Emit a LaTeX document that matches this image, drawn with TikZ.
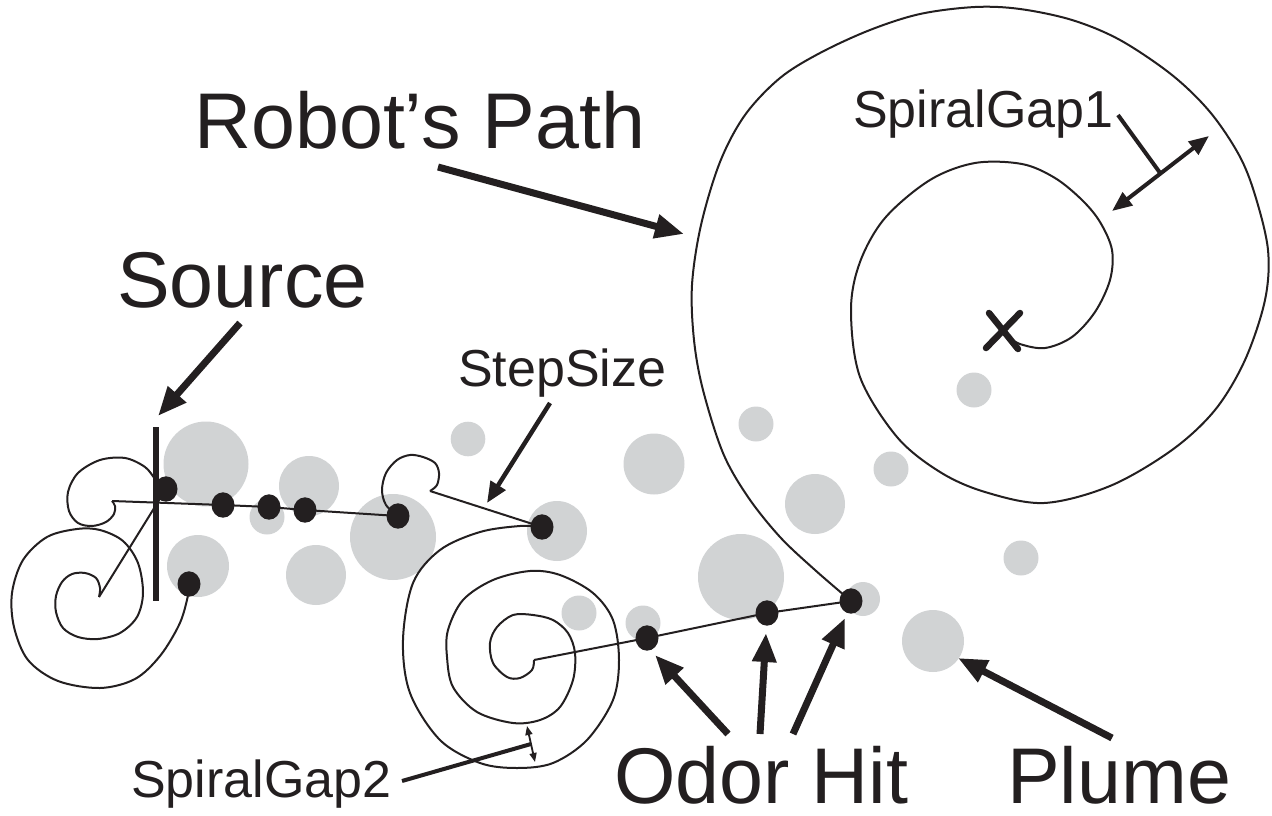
\documentclass[tikz,border=0pt]{standalone}
\usepackage{fontspec}
\setmainfont{Liberation Sans}
\usetikzlibrary{arrows.meta}
\definecolor{ink}{HTML}{231F20}
\definecolor{plumegray}{HTML}{D1D3D4}
\tikzset{
  puff/.style={fill=plumegray},
  trail/.style={draw=ink, line width=2pt, line join=round},
  hitdot/.style={fill=ink},
  bigarrow/.style={draw=ink, line width=7pt, -{Triangle[length=29pt,width=23pt]}},
  midarrow/.style={draw=ink, line width=4.5pt, -{Triangle[length=21pt,width=17pt]}},
  gaparrow/.style={draw=ink, line width=4pt, {Triangle[length=20pt,width=16pt]}-{Triangle[length=20pt,width=16pt]}},
  tinyarrow/.style={draw=ink, line width=1.8pt, {Triangle[length=9pt,width=7pt]}-{Triangle[length=9pt,width=7pt]}},
  leader/.style={draw=ink, line width=4pt},
  biglbl/.style={inner sep=0pt, anchor=base west, text=ink, font=\fontsize{79}{90}\selectfont},
  smalllbl/.style={inner sep=0pt, anchor=base west, text=ink, font=\fontsize{52}{60}\selectfont},
}
\begin{document}
\begin{tikzpicture}[x=1pt,y=-1pt]
\useasboundingbox (0,0) rectangle (1272,816);

% odour plume puffs
\foreach \cx/\cy/\r in {206/464/42.5, 309/486/30, 267/517/17.5, 198/566/31, 316/575/30,
  393/537/43, 468/439/17.3, 654/464/30.5, 557/531/30, 579/613/17.5, 643/623/17.5,
  741/577/43, 815/504/30, 891/469/17.5, 756/424/17.5, 974/390/17.5, 863/599/17,
  933/641/31, 1021/558/17.5}
  \fill[puff] (\cx,\cy) circle (\r);

% odour hit positions
\coordinate (s1) at (166,489);
\coordinate (s2) at (223,505);
\coordinate (s3) at (269,507);
\coordinate (s4) at (305,510);
\coordinate (s5) at (398,516);
\coordinate (s6) at (189,584);
\coordinate (m1) at (542,527);
\coordinate (h1) at (647,638);
\coordinate (h2) at (767,613);
\coordinate (h3) at (851,601);
\coordinate (c2) at (534,660);
\coordinate (c1) at (99,597);
\coordinate (hookA) at (112,501);
\coordinate (hookB) at (430,491);

% source bar
\draw[ink, line width=6pt] (156,427) -- (156,601);

% outward spiral from the start cross to the first hit
\draw[trail] plot[smooth, tension=0.55] coordinates {
  (1005,335) (1020,344) (1045,348) (1072,337) (1095,312) (1110,280) (1112,250)
  (1100,222) (1082,200) (1055,178) (1022,164) (975,163) (930,180) (885,218)
  (860,262) (851,310) (860,377) (897,437) (940,472) (985,492) (1044,503)
  (1110,486) (1172,450) (1215,410) (1245,360) (1265,300) (1268,250) (1255,195)
  (1239,155) (1210,112) (1172,75) (1120,40) (1072,20) (1020,9) (975,7) (920,14)
  (870,30) (820,53) (780,78) (745,115) (720,162) (701,225) (692,285) (694,340)
  (703,390) (723,453) (748,497) (780,537) (815,570) (851,601)};

% upwind surge through the hits
\draw[trail] (h3) -- (h2) -- (h1) -- (c2);

% middle casting spiral
\draw[trail] plot[smooth, tension=0.55] coordinates {
  (534,660) (532,670) (520,678) (507,677) (493,663) (490,643) (497,627) (513,615)
  (533,615) (553,620) (568,633) (575,653) (573,680) (560,707) (540,720) (513,723)
  (477,712) (453,687) (447,657) (448,630) (463,600) (493,580) (530,571) (560,575)
  (593,593) (613,620) (619,660) (613,700) (587,740) (553,763) (517,768) (480,763)
  (440,740) (410,693) (403,640) (413,583) (440,550) (480,532) (520,526) (542,527)};

% step to the next hit and small loop
\draw[trail] (m1) -- (hookB);
\draw[trail] plot[smooth, tension=0.55] coordinates {
  (430,491) (437,485) (439,473) (435,463) (423,457) (410,455) (397,460) (386,473)
  (382,490) (386,505) (398,516)};

% surge past the source
\draw[trail] (s5) -- (s4) -- (s3) -- (s2) -- (hookA);
\draw[trail] plot[smooth, tension=0.55] coordinates {
  (112,501) (115,506) (114,514) (106,522) (92,526) (78,523) (69,511) (68,492)
  (78,473) (100,460) (125,458) (145,467) (156,480) (166,489)};

% left casting spiral
\draw[trail] (s1) -- (c1);
\draw[trail] plot[smooth, tension=0.55] coordinates {
  (99,597) (100,588) (96,578) (85,573) (72,574) (62,582) (56,596) (56,612) (63,628)
  (78,637) (98,639) (120,633) (137,617) (143,593) (138,563) (123,541) (100,530)
  (77,529) (47,537) (23,560) (12,593) (14,627) (28,660) (58,681) (100,688)
  (135,679) (160,656) (179,625) (187,600) (189,584)};

% hit dots
\foreach \p in {s1,s2,s3,s4,s5,s6,m1,h1,h2,h3}
  \fill[hitdot] (\p) ellipse [x radius=11.5, y radius=12.7];

% start cross
\draw[ink, line width=6.5pt, line cap=round] (986,348) -- (1020,313);
\draw[ink, line width=6.5pt, line cap=round] (989,313) -- (1018,349);

% labels
\node[biglbl] (robot) at (194,148) {Robot’s Path};
\node[biglbl] (source) at (117,307) {Source};
\node[biglbl] (odor) at (614,803) {Odor Hit};
\node[biglbl] (plume) at (1007,803) {Plume};
\node[smalllbl] (step) at (458,386) {StepSize};
\node[smalllbl] (gap1) at (853,127) {SpiralGap1};
\node[smalllbl] (gap2) at (131,797) {SpiralGap2};

% pointer arrows
\coordinate (robotT) at (438,167);   \coordinate (robotH) at (684,234);
\coordinate (sourceT) at (240,323);  \coordinate (sourceH) at (158,416);
\coordinate (stepT) at (550,403);    \coordinate (stepH) at (487,503);
\coordinate (odorT1) at (728,734);   \coordinate (odorH1) at (655,655);
\coordinate (odorT2) at (760,734);   \coordinate (odorH2) at (766,633);
\coordinate (odorT3) at (793,734);   \coordinate (odorH3) at (845,618);
\coordinate (plumeT) at (1112,738);  \coordinate (plumeH) at (958,658);
\draw[bigarrow] (robotT) -- (robotH);
\draw[bigarrow] (sourceT) -- (sourceH);
\draw[midarrow] (stepT) -- (stepH);
\draw[bigarrow] (odorT1) -- (odorH1);
\draw[bigarrow] (odorT2) -- (odorH2);
\draw[bigarrow] (odorT3) -- (odorH3);
\draw[bigarrow] (plumeT) -- (plumeH);

% spiral gap markers
\coordinate (g1a) at (1112,211); \coordinate (g1b) at (1209,136);
\coordinate (g1m) at (1160.5,173.5); \coordinate (g1l) at (1118,115);
\draw[gaparrow] (g1a) -- (g1b);
\draw[leader] (g1l) -- (g1m);
\coordinate (g2a) at (527,726); \coordinate (g2b) at (535,762);
\coordinate (g2m) at (531,744); \coordinate (g2l) at (402,781);
\draw[tinyarrow] (g2a) -- (g2b);
\draw[leader] (g2l) -- (g2m);
\end{tikzpicture}
\end{document}
